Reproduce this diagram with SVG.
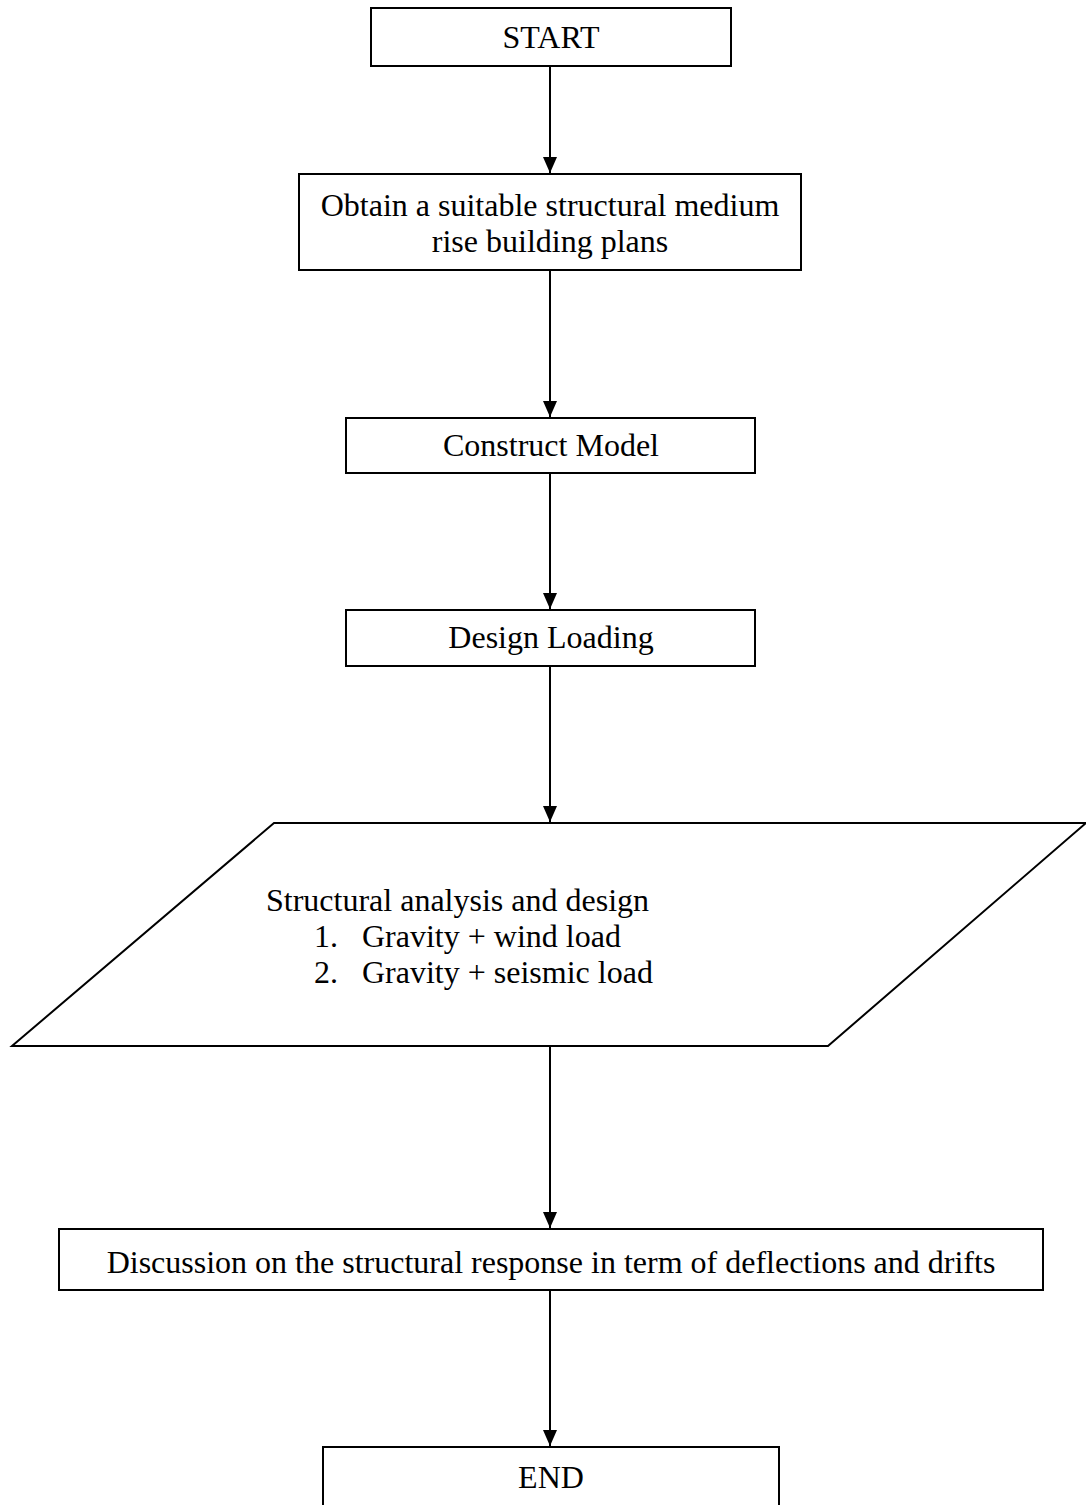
<svg xmlns="http://www.w3.org/2000/svg" width="1086" height="1505" viewBox="0 0 1086 1505">
<style>
.box{fill:#fff;stroke:#000;stroke-width:2}
.t{font-family:"Liberation Serif","Times New Roman",serif;font-size:32px;fill:#000}
.c{text-anchor:middle}
.ln{stroke:#000;stroke-width:2;fill:none}
</style>
<defs>
<marker id="arr" markerUnits="userSpaceOnUse" markerWidth="16" markerHeight="14" viewBox="0 0 16 14" refX="16" refY="7" orient="auto">
<path d="M0,0 L16,7 L0,14 Z" fill="#000"/>
</marker>
</defs>
<rect width="1086" height="1505" fill="#fff"/>
<g id="connectors">
<line class="ln" x1="550" y1="66" x2="550" y2="173" marker-end="url(#arr)"/>
<line class="ln" x1="550" y1="270" x2="550" y2="417" marker-end="url(#arr)"/>
<line class="ln" x1="550" y1="473" x2="550" y2="609" marker-end="url(#arr)"/>
<line class="ln" x1="550" y1="666" x2="550" y2="822" marker-end="url(#arr)"/>
<line class="ln" x1="550" y1="1046" x2="550" y2="1228" marker-end="url(#arr)"/>
<line class="ln" x1="550" y1="1290" x2="550" y2="1446" marker-end="url(#arr)"/>
</g>
<g id="start">
<rect class="box" x="371" y="8" width="360" height="58"/>
<text class="t c" x="551" y="48">START</text>
</g>
<g id="obtain">
<rect class="box" x="299" y="174" width="502" height="96"/>
<text class="t c" x="550" y="216">Obtain a suitable structural medium</text>
<text class="t c" x="550" y="252">rise building plans</text>
</g>
<g id="construct">
<rect class="box" x="346" y="418" width="409" height="55"/>
<text class="t c" x="551" y="456">Construct Model</text>
</g>
<g id="loading">
<rect class="box" x="346" y="610" width="409" height="56"/>
<text class="t c" x="551" y="648">Design Loading</text>
</g>
<g id="analysis">
<polygon class="box" points="274,823 1086,823 828,1046 12,1046"/>
<text class="t" x="266" y="911">Structural analysis and design</text>
<text class="t" x="314" y="947">1.</text>
<text class="t" x="362" y="947">Gravity + wind load</text>
<text class="t" x="314" y="983">2.</text>
<text class="t" x="362" y="983">Gravity + seismic load</text>
</g>
<g id="discussion">
<rect class="box" x="59" y="1229" width="984" height="61"/>
<text class="t c" x="551" y="1273">Discussion on the structural response in term of deflections and drifts</text>
</g>
<g id="end">
<rect class="box" x="323" y="1447" width="456" height="70"/>
<text class="t c" x="551" y="1488">END</text>
</g>
</svg>
